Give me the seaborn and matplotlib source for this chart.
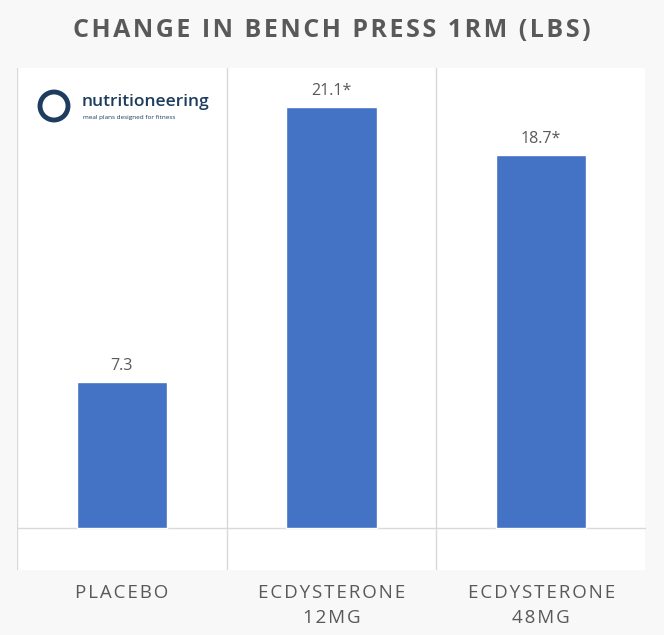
import pandas as pd
import seaborn as sns
import matplotlib.pyplot as plt
from matplotlib.patches import Circle

groups = ["PLACEBO", "ECDYSTERONE\n12MG", "ECDYSTERONE\n48MG"]
change = [7.3, 21.1, 18.7]
labels = ["7.3", "21.1*", "18.7*"]
title = "CHANGE IN BENCH PRESS 1RM (LBS)"

df = pd.DataFrame({"group": groups, "change": change})


def spaced(s):
    # fake letter spacing with hair spaces
    return "\n".join("\u200a".join(line) for line in s.split("\n"))


sns.set_style("white")
plt.rcParams["font.family"] = ["Open Sans", "DejaVu Sans"]

fig = plt.figure(figsize=(6.64, 6.35), dpi=100, facecolor="#f8f8f8")
ax = fig.add_axes([0.0256, 0.1024, 0.9474, 0.7906])
ax.set_facecolor("white")

sns.barplot(data=df, x="group", y="change", color="#4472c4", width=0.43,
            saturation=1, ax=ax)

ax.set_ylim(-2.1, 23.05)
ax.set_xlim(-0.5, 2.5)
for x in [-0.5, 0.5, 1.5, 2.5]:
    ax.axvline(x, color="#d9d9d9", lw=1, zorder=0)
ax.axhline(0, color="#d9d9d9", lw=1, zorder=0)

for i, (v, t) in enumerate(zip(change, labels)):
    ax.text(i, v + 0.4, t, ha="center", va="bottom", fontsize=11.5,
            color="#595959")

ax.set_yticks([])
ax.set_xlabel("")
ax.set_ylabel("")
ax.tick_params(axis="x", length=0, pad=10)
ax.set_xticks(range(3))
ax.set_xticklabels([spaced(g) for g in groups], fontsize=13.5, color="#595959",
                   linespacing=1.5)
for s in ax.spines.values():
    s.set_visible(False)

fig.text(0.5, 0.952, spaced(title), ha="center", va="center",
         fontsize=18, fontweight="bold", color="#595959")

# logo
ax_logo = fig.add_axes([0, 0, 1, 1], facecolor="none")
ax_logo.set_xlim(0, 664)
ax_logo.set_ylim(635, 0)
ax_logo.axis("off")
ax_logo.add_patch(Circle((54, 106), 14, fill=False, ec="#1d3c5e", lw=3.5))
ax_logo.text(82, 102, "nutritioneering", fontsize=12.5, color="#1d3c5e",
             fontweight="semibold", va="center", ha="left")
ax_logo.text(83, 117, "meal plans designed for fitness", fontsize=4.6,
             color="#1d3c5e", va="center", ha="left")

fig.savefig("out.png", dpi=100, facecolor=fig.get_facecolor())
